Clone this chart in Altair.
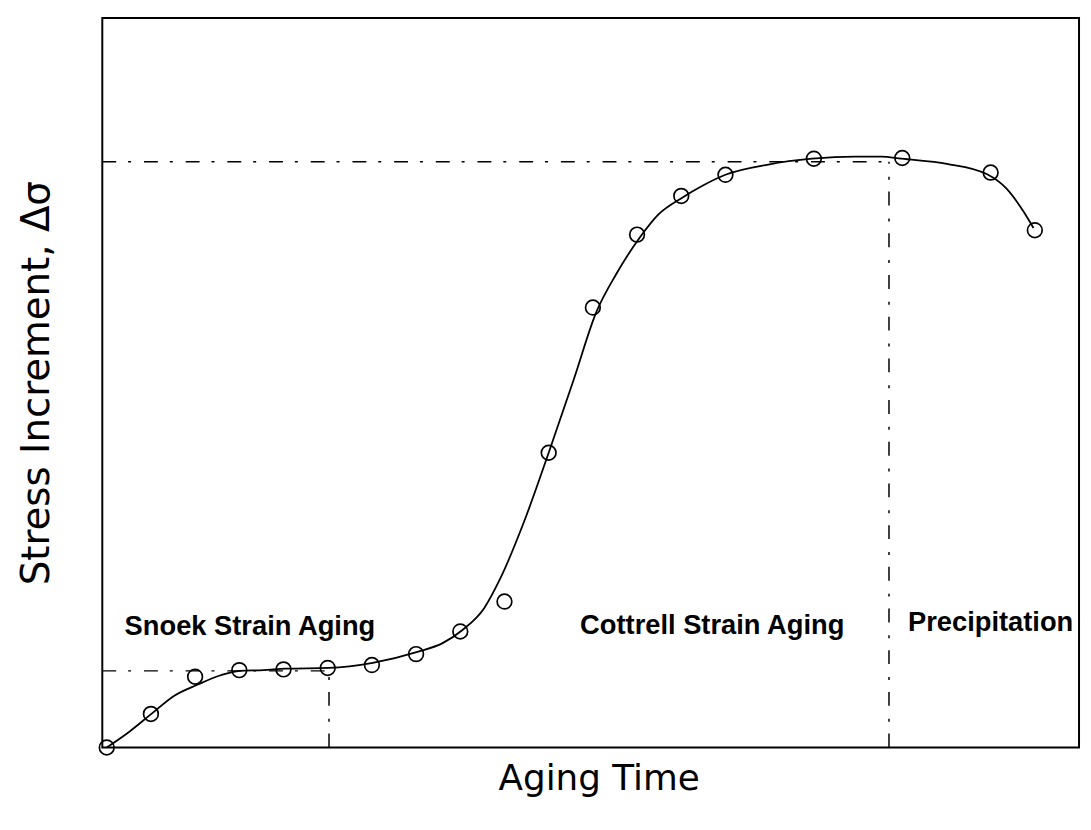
import altair as alt
import pandas as pd

# Measured data points (aging time index, stress increment in arbitrary units)
pt_x = [0, 1, 2, 3, 4, 5, 6, 7, 8, 9, 10, 11, 12, 13, 14, 16, 18, 20, 21]
pt_y = [0.0, 4.6, 9.7, 10.6, 10.7, 10.9, 11.3, 12.8, 15.9, 20.0, 40.4, 60.3,
        70.3, 75.6, 78.5, 80.7, 80.8, 78.8, 70.9]

# Fitted curve
cv_x = [0.0, 0.52, 1.01, 1.53, 2.05, 2.58, 3.01, 3.55, 4.05, 5.03, 6.02, 7.03,
        7.6, 8.05, 8.54, 8.9, 9.44, 10.0, 10.56, 11.08, 11.53, 12.05, 12.49,
        13.03, 13.48, 14.0, 14.97, 15.96, 16.92, 17.53, 17.98, 19.01, 19.91,
        20.36, 20.74, 20.97]
cv_y = [0.0, 2.2, 4.6, 7.1, 8.6, 9.9, 10.5, 10.6, 10.8, 10.9, 11.6, 13.1,
        14.3, 16.1, 19.1, 23.1, 30.9, 40.4, 50.3, 59.7, 64.9, 69.8, 73.1,
        75.4, 77.0, 78.5, 79.9, 80.7, 81.0, 81.0, 80.7, 80.0, 78.6, 76.6,
        73.5, 71.2]

# Reference dash-dot lines (segments)
ref_x1 = [-0.1, 5.03, -0.1, 17.7]
ref_x2 = [5.03, 5.03, 17.7, 17.7]
ref_y1 = [10.5, 0.0, 80.3, 0.0]
ref_y2 = [10.5, 10.5, 80.3, 80.3]

# Region labels
lab_text = ["Snoek Strain Aging", "Cottrell Strain Aging", "Precipitation"]
lab_x = [3.24, 13.7, 20.0]
lab_y = [15.4, 15.6, 15.9]

pts = pd.DataFrame({"t": pt_x, "s": pt_y})
cv = pd.DataFrame({"t": cv_x, "s": cv_y})
refs = pd.DataFrame({"x1": ref_x1, "x2": ref_x2, "y1": ref_y1, "y2": ref_y2})
labs = pd.DataFrame({"text": lab_text, "t": lab_x, "s": lab_y})

xs = alt.Scale(domain=[-0.1, 22.0], nice=False, zero=False)
ys = alt.Scale(domain=[0, 100], nice=False, zero=False)

xax = alt.Axis(title="Aging Time", labels=False, ticks=False, domain=False, grid=False,
               titleFont="DejaVu Sans", titleFontSize=36, titleFontWeight="normal",
               titleColor="black", titlePadding=14, titleX=500)
yax = alt.Axis(title="Stress Increment, Δσ", labels=False, ticks=False, domain=False,
               grid=False, titleFont="DejaVu Sans", titleFontSize=39,
               titleFontWeight="normal", titleColor="black", titlePadding=46)

base_x = alt.X("t:Q", scale=xs, axis=xax)
base_y = alt.Y("s:Q", scale=ys, axis=yax)

curve = alt.Chart(cv).mark_line(color="black", strokeWidth=1.8, interpolate="monotone").encode(
    x=base_x, y=base_y)

points = alt.Chart(pts).mark_point(shape="circle", filled=False, color="black",
                                   size=220, strokeWidth=1.7, opacity=1).encode(
    x=alt.X("t:Q", scale=xs), y=alt.Y("s:Q", scale=ys))

rules = alt.Chart(refs).mark_rule(color="black", strokeWidth=1.5,
                                  strokeDash=[14, 12, 3, 13]).encode(
    x=alt.X("x1:Q", scale=xs), x2="x2:Q",
    y=alt.Y("y1:Q", scale=ys), y2="y2:Q")

labels = alt.Chart(labs).mark_text(font="Liberation Sans", fontWeight="bold", fontSize=27.5,
                                   align="center", baseline="alphabetic",
                                   color="black").encode(
    x=alt.X("t:Q", scale=xs), y=alt.Y("s:Q", scale=ys), text="text:N")

chart = alt.layer(rules, curve, points, labels).properties(
    width=984, height=735,
    autosize=alt.AutoSizeParams(type="none"),
    padding={"left": 95, "top": 7, "right": 4, "bottom": 60},
    background="white",
).configure_view(stroke="black", strokeWidth=2)

chart.save("out.html", embed_options={"renderer": "svg", "actions": False})
